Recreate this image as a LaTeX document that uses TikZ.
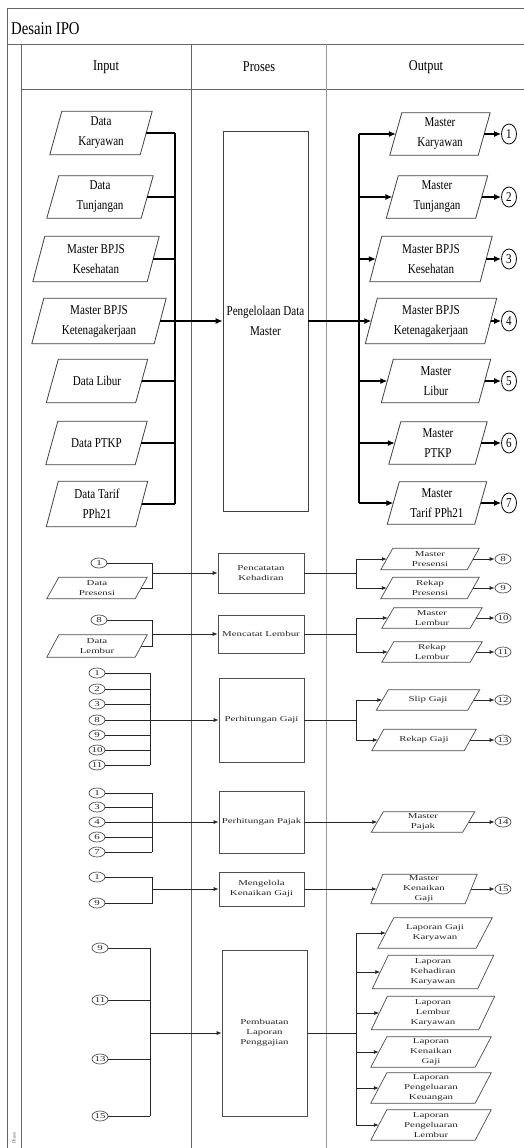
\documentclass[tikz,border=0pt]{standalone}
\usepackage{fontspec}
\setmainfont{Liberation Serif}
\newfontfamily\upf[FakeStretch=0.82]{Liberation Serif}
\newfontfamily\lowf[FakeStretch=1.45]{Liberation Serif}
\usetikzlibrary{arrows.meta,shapes.geometric}
\begin{document}
\begin{tikzpicture}[x=1pt,y=-1pt,
  frame/.style={draw=black!60, line width=0.9pt},
  utext/.style={font=\upf\fontsize{13.5}{20}\selectfont, align=center},
  uio/.style={utext, inner sep=0pt},
  ubox/.style={draw=black!75, line width=0.8pt, utext, inner sep=0pt},
  ucir/.style={ellipse, draw=black, line width=0.8pt, inner sep=0pt, minimum width=15pt, minimum height=20pt, utext},
  upara/.style={draw=black!75, line width=0.8pt},
  uconn/.style={draw=black, line width=1.2pt},
  uarr/.style={uconn, -{Latex[length=7pt,width=6pt]}},
  ltext/.style={font=\lowf\fontsize{7.5}{10}\selectfont, align=center, text=black!85},
  lio/.style={ltext, inner sep=0pt},
  lbox/.style={draw=black!70, line width=0.7pt, ltext, inner sep=0pt},
  lcir/.style={ellipse, draw=black!70, line width=0.7pt, inner sep=0pt, minimum width=16pt, minimum height=10pt, ltext},
  lpara/.style={draw=black!70, line width=0.7pt},
  lconn/.style={draw=black!85, line width=0.8pt},
  larr/.style={lconn, -{Latex[length=5pt,width=4pt]}}
]
\useasboundingbox (0,0) rectangle (524,1148);

% frame
\draw[frame] (524,8) -- (7,8) -- (7,1148);
\draw[frame] (7,44) -- (524,44);
\draw[frame] (21,44) -- (21,1148);
\draw[frame] (21,89) -- (524,89);
\draw[frame] (191,44) -- (191,1148);
\draw[frame, draw=black!40] (326,44) -- (326,1148);
\node[anchor=west, font=\upf\fontsize{18}{20}\selectfont, inner sep=0pt] (title) at (11,29) {Desain IPO};
\node[font=\upf\fontsize{15}{18}\selectfont] (hin) at (106,67) {Input};
\node[font=\upf\fontsize{15}{18}\selectfont] (hpr) at (259,67) {Proses};
\node[font=\upf\fontsize{15}{18}\selectfont] (hout) at (426,67) {Output};
\node[rotate=90, font=\fontsize{5}{6}\selectfont, text=black!60, inner sep=0pt] (phase) at (14,1138) {Phase};

% ---------- upper section ----------
\node[uio, minimum width=90pt, minimum height=43pt] (dk) at (101,133) {Data\\Karyawan};
\node[uio, minimum width=94pt, minimum height=42pt] (dt) at (100,197) {Data\\Tunjangan};
\node[uio, minimum width=114pt, minimum height=45pt] (dbk) at (96,259) {Master BPJS\\Kesehatan};
\node[uio, minimum width=122pt, minimum height=45pt] (dbt) at (99,321) {Master BPJS\\Ketenagakerjaan};
\node[uio, minimum width=89pt, minimum height=43pt] (dl) at (97,381) {Data Libur};
\node[uio, minimum width=89pt, minimum height=43pt] (dp) at (96.5,443) {Data PTKP};
\node[uio, minimum width=89pt, minimum height=45pt] (dtp) at (97,504) {Data Tarif\\PPh21};

\node[ubox, minimum width=85pt, minimum height=380pt] (pdm) at (265.5,321) {Pengelolaan Data\\Master};

\node[uio, minimum width=88pt, minimum height=42pt] (mk) at (440,134) {Master\\Karyawan};
\node[uio, minimum width=89pt, minimum height=42pt] (mt) at (437,197) {Master\\Tunjangan};
\node[uio, minimum width=110pt, minimum height=45pt] (mbk) at (431,259) {Master BPJS\\Kesehatan};
\node[uio, minimum width=119pt, minimum height=45pt] (mbt) at (431,321) {Master BPJS\\Ketenagakerjaan};
\node[uio, minimum width=97pt, minimum height=43pt] (ml) at (436,381) {Master\\Libur};
\node[uio, minimum width=86pt, minimum height=42pt] (mp) at (438,443) {Master\\PTKP};
\node[uio, minimum width=87pt, minimum height=42pt] (mtp) at (437,503) {Master\\Tarif PPh21};

\foreach \n in {dk,dt,dbk,dbt,dl,dp,dtp,mk,mt,mbk,mbt,ml,mp,mtp}
  \draw[upara] ([xshift=-6pt]\n.south west) -- ([xshift=6pt]\n.north west) -- ([xshift=6pt]\n.north east) -- ([xshift=-6pt]\n.south east) -- cycle;

\foreach \n/\y [count=\i] in {mk/134,mt/197,mbk/259,mbt/321,ml/381,mp/443,mtp/503}
  \node[ucir] (c\i) at (509,\y) {\i};

\coordinate (ib) at (175,0);
\coordinate (ob) at (359,0);
\foreach \n in {dk,dt,dbk,dbt,dl,dp,dtp}
  \draw[uconn] (\n.east) -- (\n.east -| ib);
\draw[uconn] (dk.east -| ib) -- (dtp.east -| ib);
\draw[uarr] (pdm.west -| ib) -- (pdm.west);
\draw[uconn] (pdm.east) -- (pdm.east -| ob);
\draw[uconn] (mk.west -| ob) -- (mtp.west -| ob);
\foreach \n/\i in {mk/1,mt/2,mbk/3,mbt/4,ml/5,mp/6,mtp/7}{
  \draw[uarr] (\n.west -| ob) -- (\n.west);
  \draw[uarr] (\n.east) -- (c\i.west);
}

% ---------- lower section ----------
\coordinate (lob) at (356,0);
% Pencatatan Kehadiran
\node[lcir] (a1) at (99,563) {1};
\node[lio, minimum width=88pt, minimum height=21pt] (dpr) at (97,588) {Data\\Presensi};
\node[lbox, minimum width=86pt, minimum height=40pt] (pk) at (261,573) {Pencatatan\\Kehadiran};
\node[lio, minimum width=86pt, minimum height=21pt] (mpr) at (430,559) {Master\\Presensi};
\node[lio, minimum width=86pt, minimum height=21pt] (rpr) at (430,588) {Rekap\\Presensi};
\node[lcir] (c8) at (503,559) {8};
\node[lcir] (c9) at (503,588) {9};
\coordinate (b1) at (152,0);
\draw[lconn] (a1.east) -- (a1.east -| b1) -- (dpr.east -| b1) -- (dpr.east);
\draw[larr] (pk.west -| b1) -- (pk.west);
\draw[lconn] (pk.east) -- (pk.east -| lob);
\draw[lconn] (mpr.west -| lob) -- (rpr.west -| lob);
\draw[larr] (mpr.west -| lob) -- (mpr.west);
\draw[larr] (rpr.west -| lob) -- (rpr.west);
\draw[larr] (mpr.east) -- (c8.west);
\draw[larr] (rpr.east) -- (c9.west);

% Mencatat Lembur
\node[lcir] (a8) at (99,620) {8};
\node[lio, minimum width=88pt, minimum height=22pt] (dlb) at (97,646) {Data\\Lembur};
\node[lbox, minimum width=86pt, minimum height=38pt] (mcl) at (261,634) {Mencatat Lembur};
\node[lio, minimum width=88pt, minimum height=20pt] (mlb) at (432,618) {Master\\Lembur};
\node[lio, minimum width=88pt, minimum height=20pt] (rlb) at (432,652) {Rekap\\Lembur};
\node[lcir] (c10) at (503,618) {10};
\node[lcir] (c11) at (503,652) {11};
\coordinate (b2) at (152,0);
\draw[lconn] (a8.east) -- (a8.east -| b2) -- (dlb.east -| b2) -- (dlb.east);
\draw[larr] (mcl.west -| b2) -- (mcl.west);
\draw[lconn] (mcl.east) -- (mcl.east -| lob);
\draw[lconn] (mlb.west -| lob) -- (rlb.west -| lob);
\draw[larr] (mlb.west -| lob) -- (mlb.west);
\draw[larr] (rlb.west -| lob) -- (rlb.west);
\draw[larr] (mlb.east) -- (c10.west);
\draw[larr] (rlb.east) -- (c11.west);

% Perhitungan Gaji
\foreach \t/\y [count=\i] in {1/673,2/689,3/704,8/720,9/735,10/750,11/765}
  \node[lcir] (g\i) at (97,\y) {\t};
\node[lbox, minimum width=85pt, minimum height=84pt] (pg) at (261.5,720) {Perhitungan Gaji};
\node[lio, minimum width=91pt, minimum height=20pt] (sg) at (428,700) {Slip Gaji};
\node[lio, minimum width=92pt, minimum height=21pt] (rg) at (424,740) {Rekap Gaji};
\node[lcir] (c12) at (503,700) {12};
\node[lcir] (c13) at (503,740) {13};
\coordinate (b3) at (150,0);
\foreach \i in {1,...,7}
  \draw[lconn] (g\i.east) -- (g\i.east -| b3);
\draw[lconn] (g1.east -| b3) -- (g7.east -| b3);
\draw[larr] (pg.west -| b3) -- (pg.west);
\draw[lconn] (pg.east) -- (pg.east -| lob);
\draw[lconn] (sg.west -| lob) -- (rg.west -| lob);
\draw[larr] (sg.west -| lob) -- (sg.west);
\draw[larr] (rg.west -| lob) -- (rg.west);
\draw[larr] (sg.east) -- (c12.west);
\draw[larr] (rg.east) -- (c13.west);

% Perhitungan Pajak
\foreach \t/\y [count=\i] in {1/793,3/807,4/822,6/837,7/852}
  \node[lcir] (j\i) at (97,\y) {\t};
\node[lbox, minimum width=85pt, minimum height=62pt] (pp) at (261.5,822) {Perhitungan Pajak};
\node[lio, minimum width=91pt, minimum height=20pt] (mpj) at (423,822) {Master\\Pajak};
\node[lcir] (c14) at (503,822) {14};
\coordinate (b4) at (152,0);
\foreach \i in {1,...,5}
  \draw[lconn] (j\i.east) -- (j\i.east -| b4);
\draw[lconn] (j1.east -| b4) -- (j5.east -| b4);
\draw[larr] (pp.west -| b4) -- (pp.west);
\draw[larr] (pp.east) -- (mpj.west);
\draw[larr] (mpj.east) -- (c14.west);

% Mengelola Kenaikan Gaji
\node[lcir] (k1) at (97,877) {1};
\node[lcir] (k2) at (97,903) {9};
\node[lbox, minimum width=85pt, minimum height=34pt] (mkg) at (261.5,889) {Mengelola\\Kenaikan Gaji};
\node[lio, minimum width=94pt, minimum height=29pt] (mkn) at (424,889) {Master\\Kenaikan\\Gaji};
\node[lcir] (c15) at (503,889) {15};
\coordinate (b5) at (152,0);
\draw[lconn] (k1.east) -- (k1.east -| b5) -- (k2.east -| b5) -- (k2.east);
\draw[larr] (mkg.west -| b5) -- (mkg.west);
\draw[larr] (mkg.east) -- (mkn.west);
\draw[larr] (mkn.east) -- (c15.west);

% Pembuatan Laporan Penggajian
\foreach \t/\y [count=\i] in {9/948,11/1000,13/1059,15/1116}
  \node[lcir] (r\i) at (100,\y) {\t};
\node[lbox, minimum width=85pt, minimum height=166pt] (plp) at (264.5,1033) {Pembuatan\\Laporan\\Penggajian};
\node[lio, minimum width=98pt, minimum height=30pt] (lgk) at (435,933) {Laporan Gaji\\Karyawan};
\node[lio, minimum width=105pt, minimum height=33pt] (lkk) at (433,972) {Laporan\\Kehadiran\\Karyawan};
\node[lio, minimum width=107pt, minimum height=33pt] (llk) at (433,1013) {Laporan\\Lembur\\Karyawan};
\node[lio, minimum width=104pt, minimum height=30pt] (lkg) at (431,1052) {Laporan\\Kenaikan\\Gaji};
\node[lio, minimum width=104pt, minimum height=30pt] (lpk) at (431,1088) {Laporan\\Pengeluaran\\Keuangan};
\node[lio, minimum width=104pt, minimum height=30pt] (lpl) at (431,1125) {Laporan\\Pengeluaran\\Lembur};
\coordinate (b6) at (150,0);
\foreach \i in {1,...,4}
  \draw[lconn] (r\i.east) -- (r\i.east -| b6);
\draw[lconn] (r1.east -| b6) -- (r4.east -| b6);
\draw[larr] (plp.west -| b6) -- (plp.west);
\draw[lconn] (plp.east) -- (plp.east -| lob);
\draw[lconn] (lgk.west -| lob) -- (lpl.west -| lob);
\foreach \n in {lgk,lkk,llk,lkg,lpk,lpl}
  \draw[larr] (\n.west -| lob) -- (\n.west);

\foreach \n in {dpr,mpr,rpr,dlb,mlb,rlb,sg,rg,mpj,mkn}
  \draw[lpara] ([xshift=-6pt]\n.south west) -- ([xshift=6pt]\n.north west) -- ([xshift=6pt]\n.north east) -- ([xshift=-6pt]\n.south east) -- cycle;
\foreach \n in {lgk,lkk,llk,lkg,lpk,lpl}
  \draw[lpara] ([xshift=-8pt]\n.south west) -- ([xshift=8pt]\n.north west) -- ([xshift=8pt]\n.north east) -- ([xshift=-8pt]\n.south east) -- cycle;
\end{tikzpicture}
\end{document}
